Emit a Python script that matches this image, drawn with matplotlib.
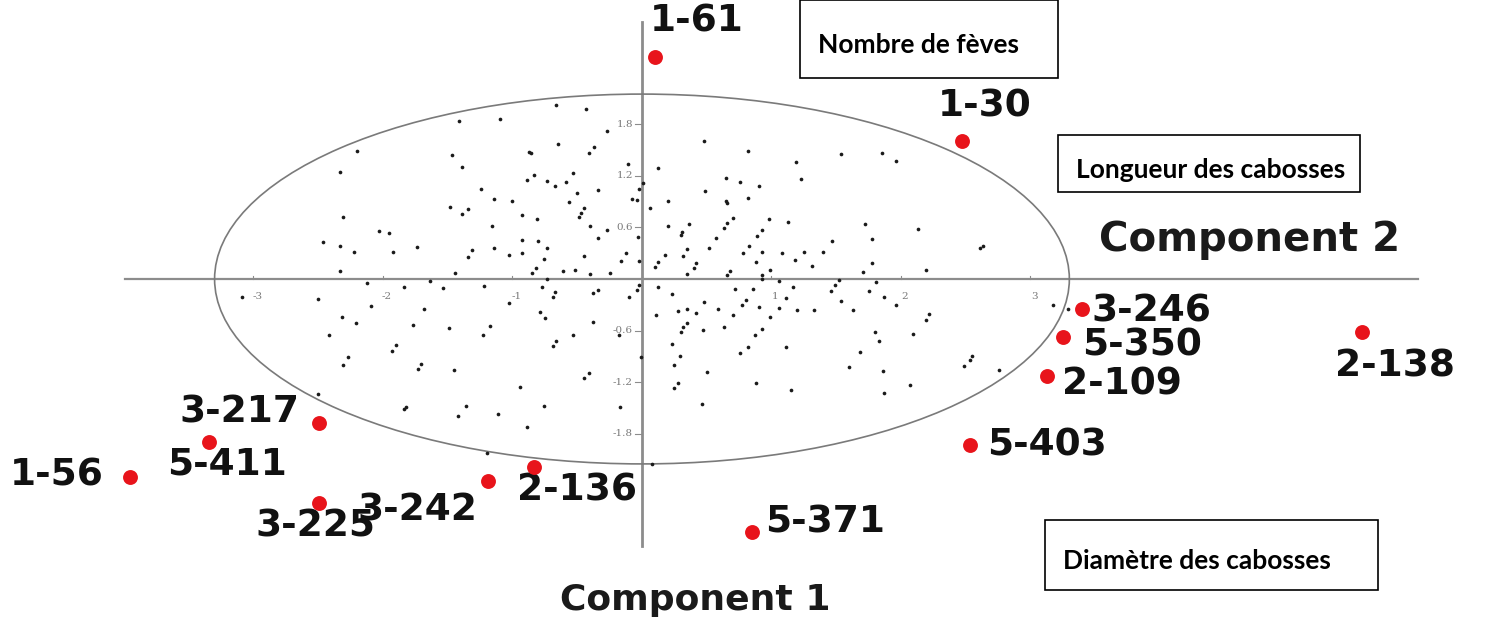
import matplotlib
matplotlib.use("Agg")
import matplotlib.pyplot as plt
from matplotlib.patches import Ellipse, Rectangle
import numpy as np

# component scores of the individual trees (black dots)
comp1 = [
    -2.20, -2.33, -1.41, -1.10, -1.47, -1.39, -0.87, -0.86, -0.89, -0.83,
    -0.73, -1.24, -1.14, -1.00, -1.48, -1.34, -1.39, -2.31, -0.93, -0.81,
    -2.03, -1.95, -1.16, -2.46, -2.33, -2.22, -1.92, -1.74, -0.93, -0.80,
    -1.31, -1.34, -1.14, -1.03, -0.93, -0.76, -0.73, -2.33, -1.44, -0.85,
    -0.82, -0.66, -0.43, -0.27, -0.65, -0.41, -0.37, -0.11, -0.53, -0.59,
    -0.67, -0.02, 0.01, -0.50, -0.34, -0.56, -0.08, -0.04, -0.45, -0.47,
    -0.49, -0.40, -0.27, -0.34, -0.03, -0.45, -0.12, -0.16, -0.02, -0.61,
    -0.52, -0.40, -0.25, -0.73,
    0.48, 0.82, 1.19, 1.54, 1.85, 1.96, 0.12, 0.49, 0.65, 0.76,
    0.90, 0.82, 0.65, 0.66, 1.23, 0.20, 0.06, 0.70, 0.66, 0.98,
    1.13, 0.20, 0.36, 0.31, 0.30, 0.63, 0.93, 0.89, 0.57, 0.83,
    0.52, 0.35, 0.32, 0.78, 0.93, 1.08, 1.18, 0.18, 0.12, 0.10,
    0.42, 0.40, 0.88, 0.68, 0.66, 0.99, 0.93, 0.35, 2.13, 2.61,
    2.63, 2.19, 1.78, 1.78, 1.72, 1.47, 1.40, 1.31, 1.25, 1.71,
    -3.09, -2.50, -2.12, -1.84, -1.64, -1.54, -1.22, -1.03, -2.32, -2.21,
    -2.09, -1.68, -2.42, -1.77, -1.49, -1.17, -1.23, -1.90, -1.93, -2.27,
    -2.31, -1.71, -1.73, -1.45, -0.94, -0.66, -0.69, -0.53, -0.79, -0.75,
    -0.67, -0.69, -0.77, -0.38, -1.82, -1.84, -1.36, -1.42, -1.11, -0.89,
    -0.76, -1.20, -2.50, -0.34, -0.38, -0.10, -0.04, -0.02, -0.18, -0.01,
    -0.41, -0.45, -0.17, 0.08,
    0.12, 0.23, 0.11, 0.28, 0.35, 0.42, 0.48, 0.59, 0.72, 0.86,
    0.77, 0.80, 0.70, 0.90, 0.99, 1.06, 1.11, 1.17, 1.20, 0.35,
    0.32, 0.30, 0.47, 0.63, 0.93, 0.87, 0.82, 0.76, 1.11, 0.23,
    0.29, 0.25, 0.50, 0.28, 0.25, 0.88, 1.15, 0.46, 0.93, 1.06,
    1.52, 1.81, 1.46, 1.49, 1.75, 1.87, 1.96, 1.33, 1.54, 1.63,
    2.22, 2.19, 1.80, 1.83, 2.09, 1.68, 1.60, 1.86, 2.07, 1.87,
    2.55, 2.53, 2.49, 2.76, 3.17, 3.29,
]
comp2 = [
    1.49, 1.24, 1.84, 1.86, 1.44, 1.30, 1.48, 1.47, 1.15, 1.21,
    1.14, 1.05, 0.93, 0.91, 0.84, 0.81, 0.76, 0.72, 0.74, 0.70,
    0.56, 0.53, 0.62, 0.43, 0.38, 0.31, 0.31, 0.37, 0.45, 0.44,
    0.34, 0.26, 0.36, 0.28, 0.30, 0.23, 0.36, 0.09, 0.07, 0.07,
    0.13, 2.02, 1.98, 1.72, 1.57, 1.47, 1.53, 1.34, 1.23, 1.13,
    1.08, 1.05, 1.12, 1.00, 1.03, 0.90, 0.93, 0.92, 0.83, 0.77,
    0.72, 0.62, 0.57, 0.48, 0.49, 0.27, 0.30, 0.21, 0.21, 0.09,
    0.10, 0.06, 0.07, 0.00,
    1.60, 1.49, 1.36, 1.45, 1.47, 1.37, 1.29, 1.02, 1.17, 1.13,
    1.08, 0.94, 0.91, 0.88, 1.16, 0.91, 0.83, 0.71, 0.65, 0.70,
    0.66, 0.62, 0.64, 0.55, 0.51, 0.59, 0.57, 0.50, 0.48, 0.38,
    0.36, 0.35, 0.27, 0.30, 0.31, 0.30, 0.22, 0.28, 0.20, 0.14,
    0.19, 0.13, 0.20, 0.09, 0.05, 0.10, 0.05, 0.06, 0.58, 0.36,
    0.38, 0.10, 0.47, 0.19, 0.64, 0.44, 0.31, 0.15, 0.31, 0.08,
    -0.21, -0.23, -0.05, -0.09, -0.02, -0.10, -0.08, -0.28, -0.44, -0.51,
    -0.31, -0.35, -0.65, -0.53, -0.57, -0.55, -0.65, -0.77, -0.84, -0.91,
    -1.00, -0.99, -1.05, -1.06, -1.26, -0.72, -0.78, -0.65, -0.38, -0.45,
    -0.15, -0.21, -0.09, -0.50, -1.49, -1.51, -1.48, -1.59, -1.57, -1.72,
    -1.48, -2.02, -1.34, -0.13, -0.16, -0.21, -0.13, -0.07, -0.65, -0.91,
    -1.09, -1.15, -1.49, -2.15,
    -0.09, -0.17, -0.42, -0.37, -0.35, -0.40, -0.27, -0.35, -0.12, -0.12,
    -0.30, -0.24, -0.42, -0.33, -0.44, -0.34, -0.22, -0.09, -0.36, -0.51,
    -0.56, -0.62, -0.59, -0.56, -0.58, -0.65, -0.79, -0.86, -0.79, -0.76,
    -0.90, -1.00, -1.08, -1.21, -1.27, -1.21, -1.29, -1.45, 0.00, -0.02,
    -0.01, -0.03, -0.14, -0.07, -0.14, -0.21, -0.30, -0.36, -0.26, -0.36,
    -0.41, -0.48, -0.62, -0.72, -0.64, -0.85, -1.02, -1.07, -1.23, -1.33,
    -0.90, -0.94, -1.01, -1.06, -0.30, -0.35,
]

# highlighted accessions
acc_names = ["1-61", "1-30", "3-246", "5-350", "2-109", "2-138", "5-403",
             "5-371", "2-136", "3-242", "3-225", "3-217", "5-411", "1-56"]
acc_c1 = [0.10, 2.47, 3.40, 3.25, 3.13, 5.56, 2.53,
          0.85, -0.83, -1.19, -2.49, -2.49, -3.34, -3.95]
acc_c2 = [2.58, 1.60, -0.35, -0.67, -1.13, -0.62, -1.93,
          -2.94, -2.19, -2.35, -2.60, -1.67, -1.90, -2.30]
# label offsets in pixels from each red dot (left edge, vertical centre)
acc_offsets = [(-5, 36), (-24, 35), (9, -2), (19, -9), (15, -8), (-27, -34),
               (17, -1), (13, 9), (-17, -23), (-130, -29), (-64, -24),
               (-140, 10), (-42, -22), (-121, 1)]

xticks = [-3, -2, -1, 1, 2, 3]
yticks = [1.8, 1.2, 0.6, -0.6, -1.2, -1.8]

W, H = 1494, 633
fig = plt.figure(figsize=(W / 100, H / 100), dpi=100)
ax = fig.add_axes([0, 0, 1, 1])
ax.set_xlim(-4.957, 6.579)
ax.set_ylim(-4.116, 3.244)
ax.axis("off")

grey = "#8c8c8c"
ax.plot([-3.99, 5.99], [0, 0], color=grey, lw=1.6, zorder=1)
ax.plot([0, 0], [-3.1, 2.99], color=grey, lw=2.0, zorder=1)
ax.add_patch(Ellipse((0, 0), 2 * 3.30, 2 * 2.15, fill=False,
                     edgecolor="#7a7a7a", lw=1.2, zorder=2))

for t in xticks:
    ax.plot([t, t], [0, 0.04], color=grey, lw=0.8)
    ax.text(t + 0.03, -0.2, str(t), ha="center", va="center",
            fontsize=7.5, color="#7a7a7a", family="DejaVu Serif")
for t in yticks:
    ax.plot([-0.05, 0], [t, t], color=grey, lw=0.8)
    ax.text(-0.07, t, f"{t:.1f}", ha="right", va="center",
            fontsize=7.5, color="#7a7a7a", family="DejaVu Serif")

ax.scatter(comp1, comp2, s=7, color="#1a1a1a", zorder=3, linewidths=0)
ax.scatter(acc_c1, acc_c2, s=115, color="#e8141b", zorder=4, linewidths=0)

for name, x, y, off in zip(acc_names, acc_c1, acc_c2, acc_offsets):
    ax.annotate(name, (x, y), xytext=off, textcoords="offset pixels",
                ha="left", va="center", fontsize=27, fontweight="bold",
                color="#111111")

ax.text(1250 / W, 1 - 240 / H, "Component 2", transform=ax.transAxes,
        ha="center", va="center", fontsize=29, fontweight="bold",
        color="#1a1a1a")
ax.text(695 / W, 1 - 600 / H, "Component 1", transform=ax.transAxes,
        ha="center", va="center", fontsize=26, fontweight="bold",
        color="#1a1a1a")

# variable boxes: label, left, top, right, bottom (pixels from top-left)
boxes = [
    ("Nombre de fèves", 800, 0, 1058, 78),
    ("Longueur des cabosses", 1058, 135, 1360, 192),
    ("Diamètre des cabosses", 1045, 520, 1378, 590),
]
for label, x0, y0, x1, y1 in boxes:
    ax.add_patch(Rectangle((x0 / W, 1 - y1 / H), (x1 - x0) / W,
                           (y1 - y0) / H, transform=ax.transAxes,
                           fill=False, edgecolor="black", lw=1.2, zorder=5))
    ax.text((x0 + 18) / W, 1 - (y0 + y1) / 2 / H - 0.01, label,
            transform=ax.transAxes, ha="left", va="center",
            fontsize=19, fontweight="bold", family="Lato", color="black")

fig.savefig("out.png", dpi=100)
